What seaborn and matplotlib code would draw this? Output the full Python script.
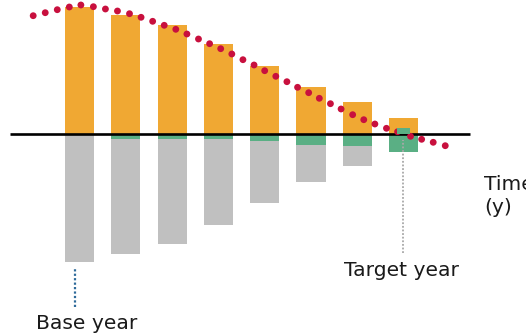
import matplotlib
matplotlib.use("Agg")
import matplotlib.pyplot as plt
import seaborn as sns
import pandas as pd

# ---- data ----
periods = [0, 1, 2, 3, 4, 5, 6, 7]
emissions_pos = [127, 119, 109, 90, 68, 47, 32, 16]        # orange, above zero
removals_neg = [-128, -120, -110, -91, -69, -48, -32, -16]  # grey, below zero
offsets_neg = [0, -5, -5, -5, -7, -11, -12, -18]            # green, just below zero
target_period = [7]
target_offset_up = [6]                                      # small green block above zero

curve_x = [-1.0, -0.74, -0.48, -0.22, 0.03, 0.30, 0.56, 0.82, 1.08, 1.33, 1.58,
           1.83, 2.08, 2.32, 2.57, 2.81, 3.05, 3.29, 3.53, 3.77, 4.0, 4.24,
           4.48, 4.71, 4.95, 5.18, 5.42, 5.65, 5.90, 6.14, 6.38, 6.63, 6.87,
           7.15, 7.39, 7.64, 7.90]
curve_y = [118.0, 121.0, 124.0, 126.7, 128.7, 127.0, 124.7, 122.7, 120.0, 116.4,
           112.4, 108.4, 104.4, 99.7, 94.7, 90.0, 85.0, 79.7, 74.0, 68.7, 63.0,
           57.4, 52.0, 46.4, 41.0, 35.4, 30.0, 24.7, 19.0, 14.0, 9.7, 5.4, 2.0,
           -2.6, -5.6, -8.6, -12.0]

labels = ["Base year", "Target year", "Time\n(y)"]

ORANGE = "#F0A833"
GREY = "#C0C0C0"
GREEN = "#5AAF84"
RED = "#C8103E"

df = pd.DataFrame({"period": periods, "pos": emissions_pos,
                   "neg": removals_neg, "off": offsets_neg})

sns.set_style("white")
plt.rcParams["font.family"] = ["DejaVu Sans"]

fig = plt.figure(figsize=(5.26, 3.35), dpi=100)
ax = fig.add_axes([0, 0, 1, 1])

bar_w = 0.63
sns.barplot(data=df, x="period", y="pos", native_scale=True, color=ORANGE,
            saturation=1, width=bar_w, errorbar=None, linewidth=0, ax=ax, zorder=1)
sns.barplot(data=df, x="period", y="neg", native_scale=True, color=GREY,
            saturation=1, width=bar_w, errorbar=None, linewidth=0, ax=ax, zorder=1)
sns.barplot(data=df, x="period", y="off", native_scale=True, color=GREEN,
            saturation=1, width=bar_w, errorbar=None, linewidth=0, ax=ax, zorder=1.5)
sns.barplot(x=target_period, y=target_offset_up, native_scale=True, color=GREEN,
            saturation=1, width=0.27, errorbar=None, linewidth=0, ax=ax, zorder=3)

# zero line
ax.hlines(0, -1.5, 8.43, color="black", linewidth=1.9, zorder=2)

# dotted trajectory
sns.scatterplot(x=curve_x, y=curve_y, s=24, color=RED, edgecolor="none",
                linewidth=0, ax=ax, zorder=2.5)

# markers for base and target year
ax.vlines(-0.1, -173.5, -133, color="#2E6A9A", linewidth=1.6,
          linestyles=(0, (1, 1)), zorder=4)
ax.vlines(6.99, -119.3, -6.3, color="#A8A8A8", linewidth=1.3,
          linestyles=(0, (1, 1)), zorder=4)

ax.text(-0.94, -195.3, labels[0], fontsize=14.6, color="#1a1a1a",
        ha="left", va="baseline")
ax.text(5.71, -142, labels[1], fontsize=14.6, color="#1a1a1a",
        ha="left", va="baseline")
ax.text(8.74, -41.3, labels[2], fontsize=14.6, color="#1a1a1a",
        ha="left", va="top", linespacing=1.25)

ax.set_xlim(-1.717, 9.644)
ax.set_ylim(-201.3, 133.7)
ax.axis("off")

fig.savefig("out.png", dpi=100)
